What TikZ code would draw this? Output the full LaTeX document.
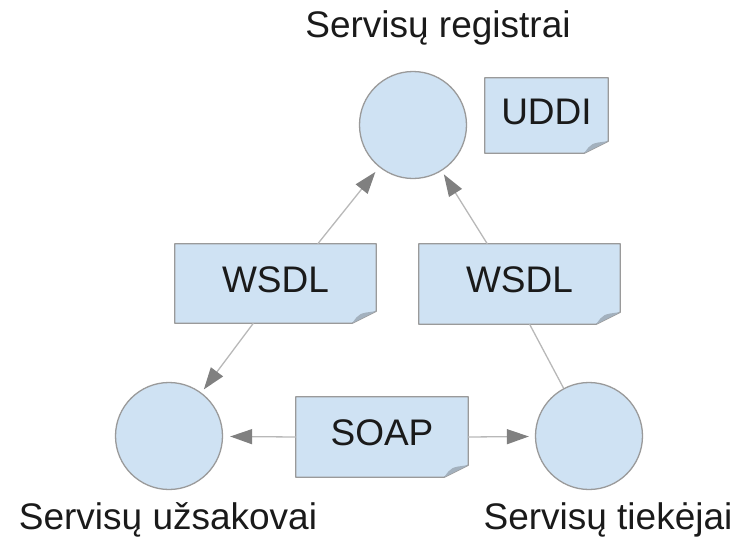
\documentclass[tikz,border=0pt]{standalone}
\usepackage{fontspec}
\setmainfont{Liberation Sans}
\usetikzlibrary{arrows.meta,calc}
\pgfdeclarelayer{background}
\pgfsetlayers{background,main}

\definecolor{paleblue}{HTML}{CFE2F3}
\definecolor{rimgray}{HTML}{9A9A9A}
\definecolor{wiregray}{HTML}{B8B8B8}
\definecolor{tipgray}{HTML}{808080}
\definecolor{foldgray}{HTML}{A3B1BE}
\definecolor{inkblack}{HTML}{1A1A1A}

\tikzset{
  role/.style={circle, draw=rimgray, line width=1.3pt, fill=paleblue,
    minimum size=107pt, inner sep=0pt},
  note/.style={inner sep=0pt, text depth=8pt,
    font=\fontsize{37}{44}\selectfont, text=inkblack},
  caption/.style={anchor=base, inner sep=0pt,
    font=\fontsize{37}{44}\selectfont, text=inkblack},
  wire/.style={draw=wiregray, line width=1.3pt},
  flow/.style={wire, -{Triangle[length=22pt,width=15pt,color=tipgray]},
    shorten >=6pt},
}

% sheet of paper behind a note node, with its lower right corner turned up
\newcommand\notesheet[1]{%
  \filldraw[fill=paleblue, draw=rimgray, line width=1.3pt, line join=round]
    (#1.south west) -- (#1.north west) -- (#1.north east)
    -- ([yshift=12pt]#1.south east) -- ([xshift=-24pt]#1.south east) -- cycle;
  \fill[foldgray] ([xshift=-24pt]#1.south east)
    .. controls ([xshift=-17pt,yshift=10pt]#1.south east) .. ([yshift=12pt]#1.south east)
    -- cycle;
}

\begin{document}
\begin{tikzpicture}[x=1pt,y=-1pt]
  \useasboundingbox (0,0) rectangle (739,538);

  % actors
  \node[role] (reg)  at (413,125) {};
  \node[role] (buy)  at (169,436) {};
  \node[role] (sell) at (589,436) {};

  % notes
  \node[note, minimum width=123pt, minimum height=75pt] (uddi) at (546.5,115.5) {UDDI};
  \node[note, minimum width=201pt, minimum height=79pt] (wl)   at (275.5,283.5) {WSDL};
  \node[note, minimum width=201pt, minimum height=80pt] (wr)   at (519.5,284)   {WSDL};
  \node[note, minimum width=172pt, minimum height=80pt] (soap) at (382,437)     {SOAP};

  \begin{pgfonlayer}{background}
    \notesheet{uddi}
    \notesheet{wl}
    \notesheet{wr}
    \notesheet{soap}
  \end{pgfonlayer}

  % captions
  \node[caption] (regcap)  at (438,37)  {Servisų registrai};
  \node[caption] (buycap)  at (168,529) {Servisų užsakovai};
  \node[caption] (sellcap) at (608,529) {Servisų tiekėjai};

  % connectors
  \draw[flow] ($(wl.north west)!0.71!(wl.north east)$) -- (reg);
  \draw[flow, shorten >=4pt] ($(wl.south west)!0.39!(wl.south east)$) -- (buy);
  \draw[flow, shorten >=4pt] ($(wr.north west)!0.34!(wr.north east)$) -- (reg);
  \draw[wire] ($(wr.south west)!0.55!(wr.south east)$) -- (sell);
  \draw[flow, shorten >=7pt] (soap.west) -- (buy);
  \draw[flow] (soap.east) -- (sell);
\end{tikzpicture}
\end{document}
